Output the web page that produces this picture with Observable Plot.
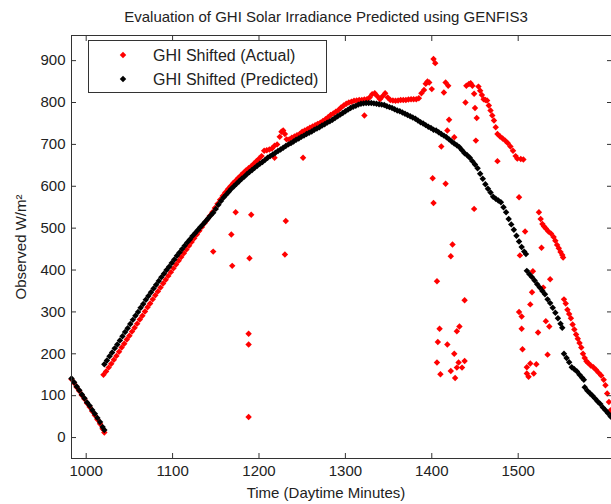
<!DOCTYPE html>
<html><head><meta charset="utf-8">
<script src="https://cdn.jsdelivr.net/npm/d3@7"></script>
<script src="https://cdn.jsdelivr.net/npm/@observablehq/plot@0.6"></script>
<style>body{margin:0;background:#fff;} svg{display:block}</style>
</head><body><div id="chart"></div>
<script>
const titleText = "Evaluation of GHI Solar Irradiance Predicted using GENFIS3";
const xLabel = "Time (Daytime Minutes)";
const yLabel = "Observed W/m²";
const seriesNames = ["GHI Shifted (Actual)", "GHI Shifted (Predicted)"];
const xTicks = [1000, 1100, 1200, 1300, 1400, 1500];
const yTicks = [0, 100, 200, 300, 400, 500, 600, 700, 800, 900];

// [minute, W/m2]
const predicted = [
[983,141],[986,132],[989,122],[992,113],[995,103],[998,94],[1001,84],[1004,76],[1007,66],[1010,57],[1013,47],[1016,37],[1019,25],[1021,18],
[1021,175],[1024,184],[1027,194],[1030,203],[1033,213],[1036,222],[1039,232],[1042,242],[1045,252],[1048,261],[1051,271],[1054,281],[1057,291],[1060,300],[1063,310],[1066,319],[1069,329],[1072,338],[1075,347],[1078,356],[1081,365],[1084,374],[1087,383],[1090,391],[1093,400],[1096,408],[1099,417],[1102,425],[1105,434],[1108,442],[1111,450],[1114,458],[1117,466],[1120,473],[1123,481],[1126,488],[1129,495],[1132,502],[1135,509],[1138,516],[1141,523],[1144,530],[1147,537],[1150,546],[1153,556],[1156,565],[1159,573],[1162,580],[1165,587],[1168,594],[1171,600],[1174,606],[1177,612],[1180,618],[1183,623],[1186,629],[1189,634],[1192,639],[1195,644],[1198,649],[1201,654],[1204,658],[1207,663],[1210,668],[1213,672],[1216,676],[1219,680],[1222,684],[1225,688],[1228,692],[1231,696],[1234,700],[1237,703],[1240,707],[1243,711],[1246,714],[1249,718],[1252,721],[1255,725],[1258,728],[1261,731],[1264,735],[1267,738],[1270,741],[1273,745],[1276,748],[1279,752],[1282,755],[1285,759],[1288,763],[1291,767],[1294,771],[1297,775],[1300,779],[1303,783],[1306,787],[1309,790],[1312,792],[1315,795],[1318,797],[1321,798],[1324,799],[1327,799],[1330,799],[1333,798],[1336,797],[1339,796],[1342,795],[1345,794],[1348,791],[1351,789],[1354,787],[1357,784],[1360,781],[1363,779],[1366,776],[1369,773],[1372,770],[1375,767],[1378,764],[1381,761],[1384,757],[1387,753],[1390,750],[1393,746],[1396,742],[1399,739],[1402,735],[1405,733],[1408,729],[1411,725],[1414,721],[1417,717],[1420,712],[1423,707],[1426,702],[1429,698],[1432,693],[1435,686],[1438,679],[1441,674],[1444,668],[1447,660],[1450,652],[1453,643],[1456,630],[1459,618],[1462,605],[1465,594],[1468,585],[1471,575],[1474,570],[1477,566],[1480,562],[1483,550],[1486,538],[1489,522],[1492,509],[1495,496],[1498,482],[1501,468],[1504,455],[1507,444],[1509,438],
[1510,398],[1513,390],[1516,383],[1519,375],[1522,366],[1525,358],[1528,350],[1531,342],[1534,330],[1537,321],[1540,310],[1543,298],[1546,285],[1549,272],[1551,262],
[1553,200],[1556,190],[1559,180],[1562,168],[1565,163],[1568,158],[1571,150],[1574,143],[1576,138],
[1577,120],[1580,112],[1583,106],[1586,100],[1589,93],[1592,86],[1595,80],[1598,72],[1601,65],[1604,58],[1607,50]
];

const actual = [
[983,139],[986,130],[989,120],[992,111],[995,101],[998,92],[1001,82],[1004,73],[1007,63],[1010,53],[1013,43],[1016,33],[1019,21],[1021,12],
[1020,150],[1023,158],[1026,167],[1029,176],[1032,186],[1035,195],[1038,205],[1041,215],[1044,224],[1047,234],[1050,243],[1053,253],[1056,262],[1059,272],[1062,282],[1065,291],[1068,301],[1071,311],[1074,320],[1077,330],[1080,340],[1083,349],[1086,358],[1089,368],[1092,377],[1095,386],[1098,395],[1101,404],[1104,413],[1107,422],[1110,431],[1113,440],[1116,449],[1119,458],[1122,467],[1125,476],[1128,485],[1131,494],[1134,503],[1137,512],[1140,520],[1143,529],[1146,538],[1149,548],[1152,558],[1155,568],[1158,577],[1161,585],[1164,593],[1167,600],[1170,607],[1173,613],[1176,620],[1179,626],[1182,632],[1185,638],[1188,643],[1191,648],[1194,654],[1197,660],[1200,666],[1203,672],[1206,685],[1209,686],[1212,688],[1215,690],[1218,697],[1221,700],[1224,718],[1226,730],[1228,733],[1230,725],[1232,712],[1235,712],[1238,716],[1241,719],[1244,722],[1247,725],[1250,730],[1253,733],[1256,736],[1259,740],[1262,743],[1265,746],[1268,749],[1271,752],[1274,756],[1277,760],[1280,765],[1283,770],[1286,774],[1289,778],[1292,782],[1295,788],[1298,793],[1301,797],[1304,800],[1307,802],[1310,804],[1313,805],[1316,806],[1319,806],[1322,807],[1325,808],[1328,812],[1331,820],[1334,822],[1337,815],[1340,808],[1343,815],[1346,822],[1349,812],[1352,806],[1355,805],[1358,804],[1361,805],[1364,806],[1367,806],[1370,806],[1373,807],[1376,808],[1379,808],[1382,808],[1385,810],[1388,822],[1391,830],[1393,845],[1395,850],[1397,848],[1400,832],[1402,904],[1404,894],
[1147,444],[1168,485],[1169,410],[1173,538],[1189,428],[1191,532],[1188,248],[1188,222],[1188,49],[1218,668],[1230,437],[1231,517],[1251,668],[1322,769],
[1401,619],[1402,560],[1414,824],[1416,848],[1419,840],[1420,759],[1418,733],[1426,717],[1411,695],[1416,606],
[1439,800],[1440,840],[1443,844],[1445,846],[1447,840],[1449,821],[1450,787],[1452,763],[1451,709],[1454,838],[1456,828],[1458,818],[1460,808],[1462,806],[1464,805],[1466,793],[1468,781],[1470,769],[1472,757],[1474,741],[1476,725],[1476,660],[1479,719],[1482,714],[1485,709],[1488,703],[1491,695],[1494,685],[1497,672],[1499,666],[1503,665],[1506,664],
[1449,546],[1501,574],[1508,492],[1502,435],[1517,397],[1537,378],[1527,453],
[1424,461],[1422,433],[1406,373],[1438,328],[1409,260],[1429,254],[1432,265],[1407,228],[1418,222],[1426,200],[1406,179],[1431,179],[1438,183],[1429,167],[1435,167],[1422,159],[1410,151],[1427,142],
[1501,300],[1504,289],[1514,318],[1516,347],[1504,260],[1523,251],[1532,278],[1536,265],[1505,211],[1534,198],[1510,168],[1514,177],[1521,175],[1510,153],[1518,153],[1512,145],[1529,358],
[1524,538],[1526,522],[1528,510],[1530,504],[1532,499],[1535,492],[1538,487],[1541,479],[1543,470],[1545,460],[1547,452],[1549,443],[1551,436],[1552,430],
[1553,330],[1555,320],[1557,305],[1559,295],[1561,285],[1563,270],[1565,258],[1567,246],[1569,236],[1571,226],[1573,215],[1575,200],[1577,190],[1579,182],[1581,178],[1584,172],[1587,168],[1590,162],[1593,155],[1596,148],[1599,138],[1601,125],[1603,105],[1605,85],[1607,65]
];

const colors = ["#ff0000", "#000000"];
const font = "'Liberation Sans', Arial, sans-serif";
const W = 611, H = 504, mL = 71, mR = 0, mT = 35, mB = 46;
const R = 2.9;

const chart = Plot.plot({
  width: W, height: H, marginLeft: mL, marginRight: mR, marginTop: mT, marginBottom: mB,
  style: {fontFamily: font, fontSize: "15px", color: "#222", background: "#fff", overflow: "visible"},
  x: {domain: [983, 1608]},
  y: {domain: [-50, 960]},
  marks: [
    Plot.dot(actual, {x: d => d[0], y: d => d[1], symbol: "diamond2", r: R, fill: colors[0]}),
    Plot.dot(predicted, {x: d => d[0], y: d => d[1], symbol: "diamond2", r: R, fill: colors[1]}),
    Plot.frame({stroke: "#333"}),
    Plot.axisX(xTicks, {anchor: "bottom", tickSize: 0, tickPadding: 7, label: null, fontSize: 15, tickFormat: d => String(d)}),
    Plot.axisX(xTicks, {anchor: "bottom", tickSize: -5, text: null, label: null, stroke: "#333"}),
    Plot.axisX(xTicks, {anchor: "top", tickSize: -5, text: null, label: null, stroke: "#333"}),
    Plot.axisY(yTicks, {anchor: "left", tickSize: 0, tickPadding: 6, label: null, fontSize: 15, tickFormat: d => String(d)}),
    Plot.axisY(yTicks, {anchor: "left", tickSize: -5, text: null, label: null, stroke: "#333"}),
    Plot.axisY(yTicks, {anchor: "right", tickSize: -5, text: null, label: null, stroke: "#333"})
  ]
});
document.getElementById("chart").appendChild(chart);

const svg = d3.select(chart);
const txtColor = "#222";
svg.append("text").attr("x", 326).attr("y", 17).attr("dy", "0.35em")
  .attr("text-anchor", "middle").attr("font-size", 15).attr("fill", txtColor)
  .attr("font-family", font).text(titleText);
svg.append("text").attr("x", 326).attr("y", 493).attr("dy", "0.35em")
  .attr("text-anchor", "middle").attr("font-size", 15).attr("fill", txtColor)
  .attr("font-family", font).text(xLabel);
svg.append("text").attr("transform", "translate(21,247) rotate(-90)").attr("dy", "0.35em")
  .attr("text-anchor", "middle").attr("font-size", 15).attr("fill", txtColor)
  .attr("font-family", font).text(yLabel);

// legend
const lg = svg.append("g");
lg.append("rect").attr("x", 88.5).attr("y", 40.5).attr("width", 238).attr("height", 52)
  .attr("fill", "#fff").attr("stroke", "#333");
const sym = d3.symbol(d3.symbolDiamond2, Math.PI * R * R);
seriesNames.forEach((name, i) => {
  const cy = 55 + i * 24;
  lg.append("path").attr("d", sym()).attr("transform", `translate(123,${cy})`).attr("fill", colors[i]);
  lg.append("text").attr("x", 153).attr("y", cy).attr("dy", "0.35em").attr("font-size", 16)
    .attr("text-anchor", "start")
    .attr("fill", txtColor).attr("font-family", font).text(name);
});
</script>
</body></html>
